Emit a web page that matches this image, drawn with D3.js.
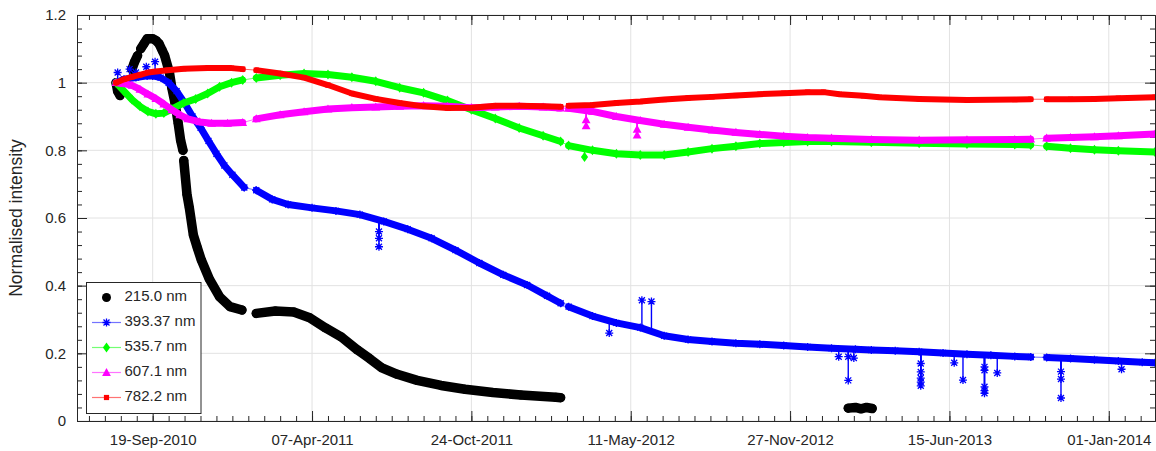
<!DOCTYPE html>
<html>
<head>
<meta charset="utf-8">
<script src="https://cdnjs.cloudflare.com/ajax/libs/d3/7.8.5/d3.min.js"></script>
<style>
  body { margin: 0; background: #fff; }
  svg text { font-family: "Liberation Sans", Arial, Helvetica, sans-serif; fill: #262626; }
</style>
</head>
<body>
<svg id="chart" width="1156" height="451"></svg>
<script>
// ---- data (null = gap in the recording) ----
const xTickLabels = ["2010-09-19", "2011-04-07", "2011-10-24", "2012-05-11", "2012-11-27", "2013-06-15", "2014-01-01"];
const yTickValues = [0, 0.2, 0.4, 0.6, 0.8, 1.0, 1.2];
const seriesNames = ["215.0 nm", "393.37 nm", "535.7 nm", "607.1 nm", "782.2 nm"];

const s215 = [
  ["2010-08-04", 1.00], ["2010-08-06", 0.975], ["2010-08-09", 0.962], null,
  ["2010-08-24", 1.04], ["2010-08-27", 1.06], ["2010-08-31", 1.08], null,
  ["2010-09-04", 1.10], ["2010-09-08", 1.115], ["2010-09-12", 1.13], ["2010-09-19", 1.13], ["2010-09-23", 1.125],
  ["2010-09-27", 1.115], ["2010-10-01", 1.095], ["2010-10-04", 1.08], ["2010-10-10", 1.03], ["2010-10-13", 0.985],
  ["2010-10-17", 0.94], ["2010-10-21", 0.88], ["2010-10-24", 0.83], ["2010-10-27", 0.80], null,
  ["2010-10-28", 0.77], ["2010-11-01", 0.67], ["2010-11-04", 0.63], ["2010-11-09", 0.55], ["2010-11-14", 0.512],
  ["2010-11-19", 0.476], ["2010-11-29", 0.42], ["2010-12-12", 0.367], ["2010-12-25", 0.338], ["2011-01-09", 0.328], null,
  ["2011-01-27", 0.318], ["2011-02-20", 0.325], ["2011-03-15", 0.322], ["2011-04-04", 0.305], ["2011-04-24", 0.275],
  ["2011-05-14", 0.248], ["2011-06-03", 0.21], ["2011-06-18", 0.185], ["2011-07-03", 0.158], ["2011-07-23", 0.138],
  ["2011-08-17", 0.12], ["2011-09-16", 0.105], ["2011-10-16", 0.094], ["2011-11-20", 0.084], ["2011-12-25", 0.077],
  ["2012-02-07", 0.07], ["2012-02-13", 0.069], null,
  ["2013-02-08", 0.038], ["2013-02-17", 0.04], ["2013-02-24", 0.036], ["2013-03-03", 0.04], ["2013-03-10", 0.037]
];

const s393 = [
  ["2010-08-04", 1.00], ["2010-08-14", 1.01], ["2010-08-29", 1.015], ["2010-09-12", 1.02], ["2010-09-19", 1.02],
  ["2010-09-29", 1.015], ["2010-10-09", 1.0], ["2010-10-19", 0.975], ["2010-10-29", 0.94], ["2010-11-08", 0.90],
  ["2010-11-18", 0.867], ["2010-11-28", 0.828], ["2010-12-08", 0.79], ["2010-12-18", 0.755], ["2010-12-28", 0.728],
  ["2011-01-12", 0.69], null,
  ["2011-01-27", 0.682], ["2011-02-16", 0.655], ["2011-03-08", 0.64], ["2011-04-07", 0.63], ["2011-05-07", 0.621],
  ["2011-06-06", 0.61], ["2011-07-06", 0.59], ["2011-08-05", 0.567], ["2011-09-04", 0.54], ["2011-10-04", 0.505],
  ["2011-11-03", 0.467], ["2011-12-03", 0.432], ["2012-01-02", 0.402], ["2012-01-27", 0.37], ["2012-02-13", 0.348], null,
  ["2012-02-23", 0.338], ["2012-03-24", 0.31], ["2012-04-23", 0.29], ["2012-05-23", 0.276], ["2012-06-22", 0.252],
  ["2012-07-22", 0.241], ["2012-08-21", 0.235], ["2012-09-20", 0.23], ["2012-10-20", 0.227], ["2012-11-19", 0.223],
  ["2012-12-19", 0.219], ["2013-01-18", 0.215], ["2013-02-17", 0.212], ["2013-03-09", 0.21], ["2013-04-08", 0.208],
  ["2013-05-08", 0.205], ["2013-06-07", 0.201], ["2013-07-07", 0.197], ["2013-08-06", 0.194], ["2013-09-05", 0.191],
  ["2013-09-25", 0.189], null,
  ["2013-10-15", 0.188], ["2013-11-14", 0.185], ["2013-12-14", 0.181], ["2014-01-13", 0.177], ["2014-02-12", 0.174],
  ["2014-02-28", 0.172]
];
// outliers: [date, band value, outlier value]
const spikes393 = [
  ["2010-08-06", 1.005, 1.03], ["2010-08-21", 1.012, 1.04], ["2010-08-29", 1.015, 1.03], ["2010-09-11", 1.02, 1.047],
  ["2010-09-22", 1.02, 1.062],
  ["2011-06-30", 0.595, 0.56], ["2011-06-30", 0.595, 0.54], ["2011-06-30", 0.595, 0.515],
  ["2012-04-14", 0.295, 0.26],
  ["2012-05-25", 0.275, 0.357], ["2012-06-06", 0.272, 0.353],
  ["2013-01-27", 0.214, 0.19], ["2013-02-08", 0.213, 0.19], ["2013-02-08", 0.213, 0.12], ["2013-02-15", 0.212, 0.186],
  ["2013-05-10", 0.205, 0.17], ["2013-05-10", 0.205, 0.145], ["2013-05-10", 0.205, 0.127], ["2013-05-10", 0.205, 0.115],
  ["2013-05-10", 0.205, 0.104],
  ["2013-06-21", 0.199, 0.172], ["2013-07-02", 0.198, 0.121],
  ["2013-07-29", 0.195, 0.16], ["2013-07-29", 0.195, 0.15], ["2013-07-29", 0.195, 0.101], ["2013-07-29", 0.195, 0.09],
  ["2013-07-29", 0.195, 0.082],
  ["2013-08-14", 0.194, 0.142],
  ["2013-11-02", 0.185, 0.146], ["2013-11-02", 0.185, 0.124], ["2013-11-02", 0.185, 0.068],
  ["2014-01-17", 0.177, 0.153]
];

const s535 = [
  ["2010-08-04", 1.00], ["2010-08-14", 0.975], ["2010-08-24", 0.95], ["2010-09-03", 0.93], ["2010-09-13", 0.915],
  ["2010-09-23", 0.908], ["2010-10-03", 0.91], ["2010-10-13", 0.922], ["2010-10-28", 0.94], ["2010-11-12", 0.952],
  ["2010-11-27", 0.968], ["2010-12-12", 0.988], ["2010-12-27", 1.0], ["2011-01-10", 1.008], null,
  ["2011-01-27", 1.014], ["2011-02-26", 1.022], ["2011-03-28", 1.027], ["2011-04-27", 1.024], ["2011-05-27", 1.016],
  ["2011-06-26", 1.004], ["2011-07-26", 0.985], ["2011-08-25", 0.97], ["2011-09-24", 0.947], ["2011-10-24", 0.92],
  ["2011-11-23", 0.894], ["2011-12-23", 0.866], ["2012-01-22", 0.843], ["2012-02-13", 0.826], null,
  ["2012-02-23", 0.814], ["2012-03-24", 0.8], ["2012-04-23", 0.79], ["2012-05-23", 0.786], ["2012-06-22", 0.786],
  ["2012-07-22", 0.795], ["2012-08-21", 0.805], ["2012-09-20", 0.812], ["2012-10-20", 0.82], ["2012-11-19", 0.823],
  ["2012-12-19", 0.826], ["2013-01-18", 0.826], ["2013-03-09", 0.824], ["2013-05-08", 0.821], ["2013-07-07", 0.819],
  ["2013-09-05", 0.817], ["2013-09-25", 0.816], null,
  ["2013-10-15", 0.812], ["2013-11-14", 0.806], ["2013-12-14", 0.802], ["2014-01-13", 0.799], ["2014-02-28", 0.795]
];
const spikes535 = [["2012-03-14", 0.806, 0.78]];

const s607 = [
  ["2010-08-04", 1.00], ["2010-08-14", 0.997], ["2010-08-24", 0.992], ["2010-09-03", 0.98], ["2010-09-13", 0.966],
  ["2010-09-23", 0.953], ["2010-10-03", 0.937], ["2010-10-13", 0.92], ["2010-10-23", 0.905], ["2010-11-02", 0.893],
  ["2010-11-17", 0.884], ["2010-12-02", 0.88], ["2010-12-22", 0.88], ["2011-01-10", 0.882], null,
  ["2011-01-27", 0.893], ["2011-02-26", 0.905], ["2011-03-28", 0.914], ["2011-04-27", 0.922], ["2011-05-27", 0.926],
  ["2011-06-26", 0.928], ["2011-07-26", 0.93], ["2011-08-25", 0.932], ["2011-09-24", 0.93], ["2011-10-24", 0.926],
  ["2011-11-23", 0.928], ["2011-12-23", 0.93], ["2012-01-22", 0.928], ["2012-02-13", 0.925], null,
  ["2012-02-23", 0.924], ["2012-03-24", 0.915], ["2012-04-23", 0.9], ["2012-05-23", 0.888], ["2012-06-22", 0.877],
  ["2012-07-22", 0.868], ["2012-08-21", 0.86], ["2012-09-20", 0.853], ["2012-10-20", 0.847], ["2012-11-19", 0.842],
  ["2012-12-19", 0.838], ["2013-01-18", 0.836], ["2013-03-09", 0.832], ["2013-05-08", 0.83], ["2013-07-07", 0.831],
  ["2013-09-05", 0.832], ["2013-09-25", 0.833], null,
  ["2013-10-15", 0.836], ["2013-11-14", 0.838], ["2013-12-14", 0.84], ["2014-01-13", 0.843], ["2014-02-28", 0.848]
];
const spikes607 = [
  ["2012-03-16", 0.917, 0.89], ["2012-03-16", 0.917, 0.872],
  ["2012-05-19", 0.89, 0.862], ["2012-05-19", 0.89, 0.845]
];

const s782 = [
  ["2010-08-04", 1.00], ["2010-08-14", 1.01], ["2010-08-24", 1.017], ["2010-09-03", 1.023], ["2010-09-13", 1.03],
  ["2010-09-23", 1.033], ["2010-10-08", 1.037], ["2010-10-28", 1.041], ["2010-11-27", 1.043], ["2010-12-27", 1.043],
  ["2011-01-10", 1.04], null,
  ["2011-01-27", 1.037], ["2011-02-26", 1.027], ["2011-03-28", 1.015], ["2011-04-27", 0.993], ["2011-05-27", 0.968],
  ["2011-06-26", 0.952], ["2011-07-26", 0.94], ["2011-08-25", 0.93], ["2011-09-24", 0.925], ["2011-10-24", 0.926],
  ["2011-11-23", 0.932], ["2011-12-23", 0.932], ["2012-01-22", 0.93], ["2012-02-13", 0.929], null,
  ["2012-02-23", 0.932], ["2012-03-24", 0.934], ["2012-04-23", 0.94], ["2012-05-23", 0.944], ["2012-06-22", 0.95],
  ["2012-07-22", 0.955], ["2012-08-21", 0.958], ["2012-09-20", 0.962], ["2012-10-20", 0.966], ["2012-11-19", 0.969],
  ["2012-12-19", 0.972], ["2013-01-08", 0.972], ["2013-01-28", 0.966], ["2013-02-27", 0.961], ["2013-03-19", 0.957],
  ["2013-05-08", 0.952], ["2013-07-07", 0.949], ["2013-09-05", 0.95], ["2013-09-25", 0.951], null,
  ["2013-10-15", 0.951], ["2013-11-14", 0.951], ["2013-12-14", 0.952], ["2014-01-13", 0.954], ["2014-02-28", 0.957]
];

// ---- setup ----
const parseDate = d3.timeParse("%Y-%m-%d");
const margin = {left: 77, right: 1155, top: 15, bottom: 421};
const ink = "#262626";

const svg = d3.select("#chart");

const x = d3.scaleTime()
  .domain([parseDate("2010-06-16"), parseDate("2014-02-28")])
  .range([margin.left, margin.right]);
const y = d3.scaleLinear().domain([0, 1.2]).range([margin.bottom, margin.top]);

const majorX = xTickLabels.map(parseDate);
// minor ticks every 20 days, major every 200
const minorX = d3.range(0, 70).map(k => d3.timeDay.offset(parseDate("2010-07-01"), 20 * k))
  .filter(d => d >= x.domain()[0] && d <= x.domain()[1]);
const minorY = d3.range(0, 31).map(k => k * 0.04);

// grid
const grid = svg.append("g").attr("stroke", "#e2e2e2").attr("stroke-width", 1);
grid.selectAll(".gx").data(majorX).join("line")
  .attr("x1", d => x(d)).attr("x2", d => x(d))
  .attr("y1", margin.top).attr("y2", margin.bottom);
grid.selectAll(".gy").data(yTickValues).join("line")
  .attr("x1", margin.left).attr("x2", margin.right)
  .attr("y1", d => y(d)).attr("y2", d => y(d));

// axes (ticks point inwards, box all round)
function styleAxis(g) {
  g.selectAll("path.domain").attr("stroke", ink);
  g.selectAll(".tick line").attr("stroke", ink);
  g.selectAll(".tick text").attr("fill", ink).style("font-size", "15px")
    .style("font-family", '"Liberation Sans", Arial, Helvetica, sans-serif');
}
const fmtY = d => (+d.toFixed(1)).toString();

svg.append("g").attr("transform", `translate(0,${margin.bottom})`)
  .call(d3.axisBottom(x).tickValues(minorX).tickSizeInner(-5).tickSizeOuter(0).tickFormat(""))
  .call(styleAxis);
svg.append("g").attr("transform", `translate(0,${margin.bottom})`)
  .call(d3.axisBottom(x).tickValues(majorX).tickSizeInner(-10).tickSizeOuter(0).tickPadding(13)
    .tickFormat(d3.timeFormat("%d-%b-%Y")))
  .call(styleAxis);
svg.append("g").attr("transform", `translate(0,${margin.top})`)
  .call(d3.axisTop(x).tickValues(minorX).tickSizeInner(-5).tickSizeOuter(0).tickFormat(""))
  .call(styleAxis);
svg.append("g").attr("transform", `translate(0,${margin.top})`)
  .call(d3.axisTop(x).tickValues(majorX).tickSizeInner(-10).tickSizeOuter(0).tickFormat(""))
  .call(styleAxis);

svg.append("g").attr("transform", `translate(${margin.left},0)`)
  .call(d3.axisLeft(y).tickValues(minorY).tickSizeInner(-5).tickSizeOuter(0).tickFormat(""))
  .call(styleAxis);
svg.append("g").attr("transform", `translate(${margin.left},0)`)
  .call(d3.axisLeft(y).tickValues(yTickValues).tickSizeInner(-10).tickSizeOuter(0).tickPadding(11).tickFormat(fmtY))
  .call(styleAxis);
svg.append("g").attr("transform", `translate(${margin.right},0)`)
  .call(d3.axisRight(y).tickValues(minorY).tickSizeInner(-5).tickSizeOuter(0).tickFormat(""))
  .call(styleAxis);
svg.append("g").attr("transform", `translate(${margin.right},0)`)
  .call(d3.axisRight(y).tickValues(yTickValues).tickSizeInner(-10).tickSizeOuter(0).tickFormat(""))
  .call(styleAxis);

svg.append("text")
  .attr("transform", `translate(17,${(margin.top + margin.bottom) / 2}) rotate(-90)`)
  .attr("text-anchor", "middle").attr("dominant-baseline", "middle")
  .style("font-size", "17.5px")
  .text("Normalised intensity");

// ---- markers ----
const markerPaths = {
  asterisk: "M-4,0H4M0,-4V4M-3,-3L3,3M-3,3L3,-3",
  diamond: "M0,-5L3.6,0L0,5L-3.6,0Z",
  triangle: "M0,-4.6L4.4,3.4L-4.4,3.4Z",
  square: "M-2.6,-2.6h5.2v5.2h-5.2Z"
};
function addMarker(g, type, color, px, py) {
  if (type === "circle") {
    return g.append("circle").attr("cx", px).attr("cy", py).attr("r", 4.5).attr("fill", color);
  }
  const p = g.append("path").attr("d", markerPaths[type]).attr("transform", `translate(${px},${py})`);
  if (type === "asterisk") p.attr("fill", "none").attr("stroke", color).attr("stroke-width", 1.3);
  else p.attr("fill", color);
  return p;
}

// ---- series ----
svg.append("clipPath").attr("id", "plotclip").append("rect")
  .attr("x", margin.left).attr("y", margin.top)
  .attr("width", margin.right - margin.left).attr("height", margin.bottom - margin.top);
const plotG = svg.append("g").attr("clip-path", "url(#plotclip)");

const toPoints = arr => arr.map(e => e && {date: parseDate(e[0]), v: e[1]});
const line = d3.line().defined(d => d != null).x(d => x(d.date)).y(d => y(d.v));

const series = [
  {data: s215, spikes: [], color: "#000000", marker: "circle", band: 9.5, connect: false},
  {data: s393, spikes: spikes393, color: "#0000ff", marker: "asterisk", band: 7, connect: true},
  {data: s535, spikes: spikes535, color: "#00ff00", marker: "diamond", band: 7, connect: true},
  {data: s607, spikes: spikes607, color: "#ff00ff", marker: "triangle", band: 7, connect: true},
  {data: s782, spikes: [], color: "#ff0000", marker: "square", band: 6, connect: true}
];

series.forEach(s => {
  const pts = toPoints(s.data);
  const g = plotG.append("g");
  if (s.connect) {
    // thin joining line, visible across the gaps
    g.append("path").datum(pts.filter(d => d != null)).attr("d", line)
      .attr("fill", "none").attr("stroke", s.color).attr("stroke-opacity", 0.6).attr("stroke-width", 1);
  }
  // dense markers form a band
  g.append("path").datum(pts).attr("d", line)
    .attr("fill", "none").attr("stroke", s.color).attr("stroke-width", s.band)
    .attr("stroke-linecap", "round").attr("stroke-linejoin", "round");
  pts.filter(d => d != null).forEach(d => addMarker(g, s.marker, s.color, x(d.date), y(d.v)));
  // outliers hanging off the band
  s.spikes.forEach(e => {
    const px = x(parseDate(e[0]));
    g.append("line").attr("x1", px).attr("x2", px).attr("y1", y(e[1])).attr("y2", y(e[2]))
      .attr("stroke", s.color).attr("stroke-width", 1.4);
    addMarker(g, s.marker, s.color, px, y(e[2]));
  });
});

// ---- legend ----
const legend = svg.append("g");
legend.append("rect").attr("x", 86.5).attr("y", 282.5).attr("width", 114.5).attr("height", 131)
  .attr("fill", "#fff").attr("stroke", ink).attr("stroke-width", 1);
series.forEach((s, i) => {
  const ly = 297.5 + i * 25;
  if (s.connect) {
    legend.append("line").attr("x1", 92).attr("x2", 121).attr("y1", ly).attr("y2", ly)
      .attr("stroke", s.color).attr("stroke-opacity", 0.55).attr("stroke-width", 1.2);
  }
  addMarker(legend, s.marker, s.color, 106.5, ly);
  legend.append("text").attr("x", 124.5).attr("y", ly).attr("dominant-baseline", "middle")
    .style("font-size", "15px").text(seriesNames[i]);
});
</script>
</body>
</html>
